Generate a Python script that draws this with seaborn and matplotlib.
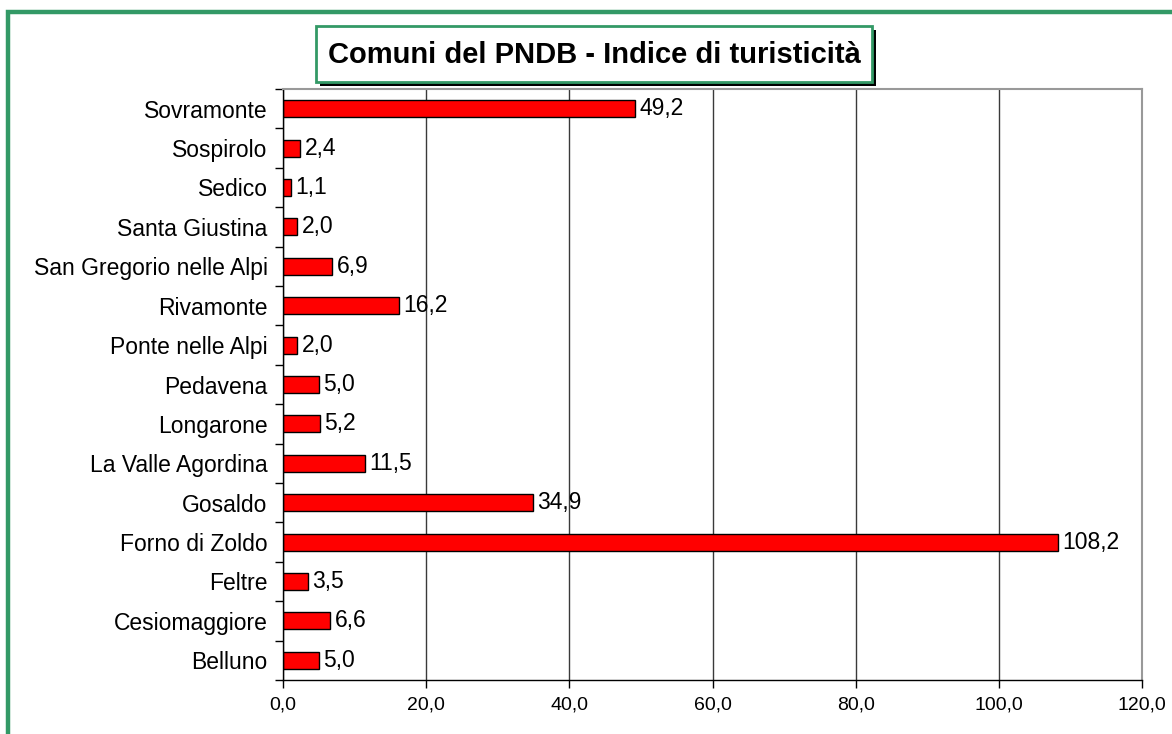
import matplotlib
matplotlib.use('Agg')
import matplotlib.pyplot as plt
from matplotlib.patches import Rectangle
from matplotlib.ticker import FixedLocator, FuncFormatter
import pandas as pd
import seaborn as sns

comuni = ['Sovramonte', 'Sospirolo', 'Sedico', 'Santa Giustina',
          'San Gregorio nelle Alpi', 'Rivamonte', 'Ponte nelle Alpi',
          'Pedavena', 'Longarone', 'La Valle Agordina', 'Gosaldo',
          'Forno di Zoldo', 'Feltre', 'Cesiomaggiore', 'Belluno']
indice = [49.2, 2.4, 1.1, 2.0, 6.9, 16.2, 2.0, 5.0, 5.2, 11.5, 34.9,
          108.2, 3.5, 6.6, 5.0]
x_ticks = [0, 20, 40, 60, 80, 100, 120]

df = pd.DataFrame({'comune': comuni, 'indice': indice})

sns.set_style('white')
plt.rcParams['font.family'] = ['Liberation Sans', 'DejaVu Sans']
plt.rcParams['text.color'] = 'black'
plt.rcParams['xtick.color'] = 'black'
plt.rcParams['ytick.color'] = 'black'

W, H = 1172, 734
fig = plt.figure(figsize=(W / 100, H / 100), dpi=100)
fig.patch.set_facecolor('white')


def fx(x):
    return x / W


def fy(y):
    return 1 - y / H


ax = fig.add_axes([fx(283), fy(680), fx(1142) - fx(283), fy(89) - fy(680)])

sns.barplot(data=df, x='indice', y='comune', color='#ff0000',
            edgecolor='black', linewidth=1, width=0.43, saturation=1, ax=ax)

for i, v in enumerate(indice):
    ax.text(v + 0.6, i, f'{v:.1f}'.replace('.', ','), va='center',
            ha='left', fontsize=16.5, color='black')

ax.set_xlim(0, 120)
ax.set_ylim(len(comuni) - 0.5, -0.5)
ax.set_xticks(x_ticks)
ax.xaxis.set_major_formatter(FuncFormatter(lambda v, p: f'{v:.1f}'.replace('.', ',')))
ax.xaxis.grid(True, color='#3a3a3a', linewidth=1)
ax.set_axisbelow(True)
ax.set_xlabel('')
ax.set_ylabel('')

ax.yaxis.set_minor_locator(FixedLocator([i - 0.5 for i in range(len(comuni) + 1)]))
ax.tick_params(axis='y', which='major', length=0, labelsize=16.5, pad=11,
               labelcolor='black')
ax.tick_params(axis='y', which='minor', length=6, width=1, color='black',
               left=True, direction='out')
ax.tick_params(axis='x', which='major', length=6, width=1, color='black',
               bottom=True, direction='out', labelsize=14, pad=6,
               labelcolor='black')

for side in ['left', 'bottom']:
    ax.spines[side].set_color('black')
    ax.spines[side].set_linewidth(1)
for side in ['top', 'right']:
    ax.spines[side].set_color('#999999')
    ax.spines[side].set_linewidth(1.5)

# cornice verde
fig.patches.append(Rectangle((fx(8), fy(H + 20)), fx(W + 40), fy(12) - fy(H + 20),
                             transform=fig.transFigure, fill=False,
                             edgecolor='#339966', linewidth=3.2, zorder=0))

# box del titolo con ombra
fig.patches.append(Rectangle((fx(320), fy(86)), fx(876) - fx(320), fy(30) - fy(86),
                             transform=fig.transFigure, facecolor='black',
                             edgecolor='none', zorder=5))
fig.patches.append(Rectangle((fx(316), fy(82)), fx(872) - fx(316), fy(26) - fy(82),
                             transform=fig.transFigure, facecolor='white',
                             edgecolor='#339966', linewidth=2, zorder=6))
fig.text(fx(594), fy(55), 'Comuni del PNDB - Indice di turisticità',
         ha='center', va='center', fontsize=21, fontweight='bold',
         color='black', zorder=7)

fig.savefig('out.png', dpi=100)
